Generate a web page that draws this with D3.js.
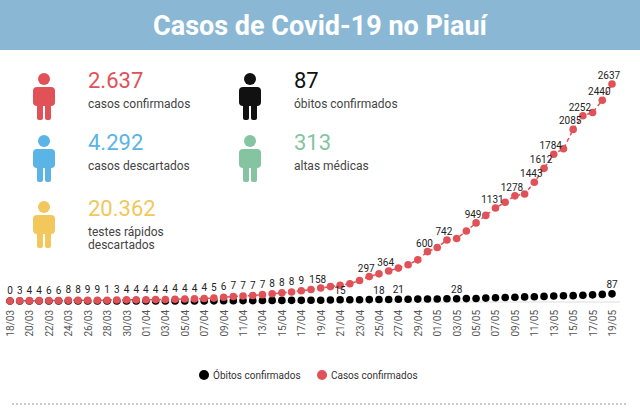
<!DOCTYPE html><html><head><meta charset="utf-8"><script src="https://cdn.jsdelivr.net/npm/d3@7"></script>
<style>body{margin:0;background:#fff}text{font-family:Roboto,sans-serif}</style></head><body><svg id="c" width="640" height="408"></svg>
<script>
const dates=[];(function(){const m=[[3,18,31],[4,1,30],[5,1,19]];m.forEach(([mo,a,b])=>{for(let d=a;d<=b;d++)dates.push(String(d).padStart(2,"0")+"/"+String(mo).padStart(2,"0"));});})();
const confirmed=[0,3,4,4,6,6,8,8,9,9,10,13,14,14,16,17,18,21,24,26,31,35,46,55,61,66,77,88,99,110,125,140,158,175,190,210,250,297,330,364,400,440,500,600,650,742,760,850,949,1040,1131,1200,1278,1300,1443,1612,1784,1850,2085,2252,2290,2440,2637];
const deaths=[0,0,0,0,0,0,0,0,0,0,0,0,0,0,0,0,0,0,0,0,1,2,4,4,5,5,6,7,7,8,8,9,10,12,15,15,16,17,18,19,21,22,23,24,25,27,28,29,31,35,40,42,45,50,52,56,60,63,65,70,75,80,87];
const earlyLabels=["0","3","4","4","6","6","8","8","9","9","1","3","4","4","4","4","4","4","4","4","4","5","6","7","7","7","7","8","8","8","9"];
const confLabelIdx=[32,37,39,43,45,48,50,52,54,55,56,58,59,61,62];
const deathLabelIdx=[34,38,40,46,62];
const stats=[{v:"2.637",l:["casos confirmados"],c:"#e05258"},{v:"87",l:["óbitos confirmados"],c:"#111"},{v:"4.292",l:["casos descartados"],c:"#5ab4e5"},{v:"313",l:["altas médicas"],c:"#85c4a0"},{v:"20.362",l:["testes rápidos","descartados"],c:"#f2c75c"}];
const pos=[[30,88],[236,88],[30,150],[236,150],[30,216]];
const svg=d3.select("#c");
svg.append("rect").attr("width",640).attr("height",50).attr("fill","#8ab8d4");
svg.append("text").attr("x",320).attr("y",35).attr("text-anchor","middle").attr("fill","#fff").attr("font-size",27).attr("font-weight","bold").text("Casos de Covid-19 no Piauí");
stats.forEach((s,i)=>{const [x,y]=pos[i];const g=svg.append("g").attr("transform",`translate(${x},${y})`);
 g.append("circle").attr("cx",14).attr("cy",-9).attr("r",6).attr("fill",s.c);
 g.append("rect").attr("x",3).attr("y",-1).attr("width",22).attr("height",19).attr("rx",4).attr("fill",s.c);
 g.append("rect").attr("x",7).attr("y",12).attr("width",6).attr("height",20).attr("rx",2).attr("fill",s.c);
 g.append("rect").attr("x",15).attr("y",12).attr("width",6).attr("height",20).attr("rx",2).attr("fill",s.c);
 g.append("text").attr("x",58).attr("y",0).attr("font-size",22).attr("fill",s.c).text(s.v);
 s.l.forEach((t,j)=>g.append("text").attr("x",58).attr("y",20+j*13).attr("font-size",12).attr("fill","#444").text(t));});
const x=d3.scalePoint().domain(dates).range([10,612]);
const y=d3.scaleLinear().domain([0,2637]).range([301,84]);
svg.append("line").attr("x1",5).attr("x2",620).attr("y1",302).attr("y2",302).attr("stroke","#ddd");
const ax=svg.append("g").attr("transform","translate(0,308)").call(d3.axisBottom(x).tickValues(dates.filter((d,i)=>i%2==0)).tickSize(0));
ax.select(".domain").remove();
ax.selectAll("text").attr("transform","rotate(-90)").attr("text-anchor","end").attr("dx","-0.2em").attr("dy","0.35em").attr("x",0).attr("y",0).attr("font-size",10).attr("fill","#555").style("font-family","Roboto");
svg.append("path").datum(confirmed).attr("fill","none").attr("stroke","#e05258").attr("stroke-width",1.5).attr("stroke-dasharray","4,3").attr("d",d3.line().x((d,i)=>x(dates[i])).y(d=>y(d)));
svg.selectAll(".d").data(deaths).join("circle").attr("cx",(d,i)=>x(dates[i])).attr("cy",d=>y(d)).attr("r",3.8).attr("fill","#000");
svg.selectAll(".r").data(confirmed).join("circle").attr("cx",(d,i)=>x(dates[i])).attr("cy",d=>y(d)).attr("r",3.8).attr("fill","#e05258");
earlyLabels.forEach((t,i)=>svg.append("text").attr("x",x(dates[i])).attr("y",y(confirmed[i])-7).attr("text-anchor","middle").attr("font-size",10).attr("fill","#222").text(t));
confLabelIdx.forEach(i=>svg.append("text").attr("x",x(dates[i])-3).attr("y",y(confirmed[i])-5).attr("text-anchor","middle").attr("font-size",10).attr("fill","#222").text(confirmed[i]));
deathLabelIdx.forEach(i=>svg.append("text").attr("x",x(dates[i])).attr("y",y(deaths[i])-6).attr("text-anchor","middle").attr("font-size",10).attr("fill","#222").text(deaths[i]));
const lg=[["Óbitos confirmados","#000",204],["Casos confirmados","#e05258",322]];
lg.forEach(([t,c,lx])=>{svg.append("circle").attr("cx",lx).attr("cy",375).attr("r",5).attr("fill",c);svg.append("text").attr("x",lx+9).attr("y",379).attr("font-size",10).attr("fill","#333").text(t);});
svg.append("line").attr("x1",12).attr("x2",628).attr("y1",404).attr("y2",404).attr("stroke","#999").attr("stroke-dasharray","2,2");
</script></body></html>
